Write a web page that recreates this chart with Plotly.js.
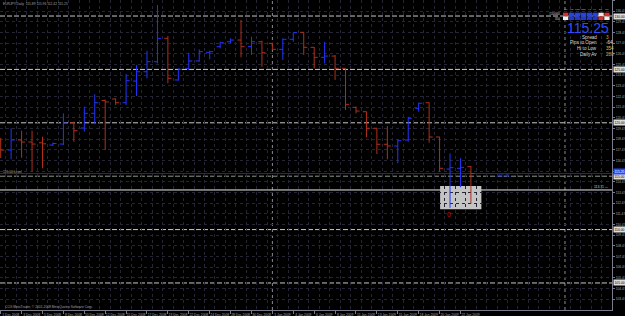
<!DOCTYPE html>
<html><head><meta charset="utf-8">
<script src="https://cdn.plot.ly/plotly-3.0.1.min.js"></script>
<style>html,body{margin:0;padding:0;background:#000;}#chart{width:625px;height:316px;}</style>
</head><body><div id="chart"></div>
<script>
// ---- data (EURJPY daily bars, Dec 2008 - Jan 2009) ----
const dates = ["1 Dec 2008","2 Dec 2008","3 Dec 2008","4 Dec 2008","5 Dec 2008","7 Dec 2008","8 Dec 2008","9 Dec 2008","10 Dec 2008","11 Dec 2008","12 Dec 2008","14 Dec 2008","15 Dec 2008","16 Dec 2008","17 Dec 2008","18 Dec 2008","19 Dec 2008","21 Dec 2008","22 Dec 2008","23 Dec 2008","24 Dec 2008","26 Dec 2008","28 Dec 2008","29 Dec 2008","30 Dec 2008","31 Dec 2008","1 Jan 2009","2 Jan 2009","4 Jan 2009","5 Jan 2009","6 Jan 2009","7 Jan 2009","8 Jan 2009","9 Jan 2009","11 Jan 2009","12 Jan 2009","13 Jan 2009","14 Jan 2009","15 Jan 2009","16 Jan 2009","18 Jan 2009","19 Jan 2009","20 Jan 2009","21 Jan 2009","22 Jan 2009","23 Jan 2009"];
const opens  = [118.30,117.45,118.39,118.20,118.13,117.92,118.01,120.01,119.51,120.89,122.09,122.23,121.88,123.91,124.78,125.72,127.91,124.01,125.10,125.79,126.60,127.13,127.59,127.75,127.13,127.59,127.44,126.88,127.82,128.47,127.07,126.13,126.25,125.10,121.45,121.04,119.49,117.99,117.83,118.39,121.36,121.88,118.67,115.67,115.74,115.89];
const highs  = [118.58,119.49,119.26,119.26,118.70,118.16,120.89,120.10,121.51,122.67,122.18,122.29,124.57,125.41,126.75,131.03,128.13,125.10,126.56,126.88,126.75,127.59,127.91,129.63,128.06,127.69,127.50,127.91,128.47,128.52,127.10,127.59,126.35,125.12,121.51,121.06,119.51,119.70,118.46,120.57,121.88,121.90,118.69,117.14,116.68,115.96];
const lows   = [116.70,116.58,116.73,115.42,115.74,117.83,117.92,118.23,119.17,119.95,117.45,121.67,121.67,122.51,124.17,125.57,123.70,123.94,124.94,125.72,125.95,126.98,127.44,126.13,126.35,125.25,126.82,125.88,127.59,126.35,125.10,125.57,124.01,121.20,120.89,118.64,117.08,116.58,116.21,118.23,121.04,118.14,115.42,112.05,113.96,112.42];
const closes = [117.45,118.39,118.20,118.01,118.03,118.06,119.98,119.26,120.89,121.88,121.95,121.88,123.94,124.78,125.72,127.91,124.17,125.01,125.79,126.66,126.66,127.50,127.75,127.13,127.59,126.56,126.88,127.82,128.44,127.07,126.13,126.25,125.10,121.73,121.10,119.49,117.99,117.83,118.32,120.42,121.83,118.67,115.74,115.80,115.83,115.25];
const levels = [130, 125, 120, 115, 110, 105];          // round-number dashed lines
const priceTicks = [103.47,104.47,105.47,106.47,107.47,108.47,109.47,110.47,111.47,112.47,113.47,114.47,115.47,116.47,117.47,118.47,119.47,120.47,121.47,122.47,123.47,124.47,125.47,126.47,127.47,128.47,129.47,130.47,131.47];
const bid = 115.25;
const hLine = 113.71;
const zone = {x0: 42.05, x1: 46.0, y0: 111.90, y1: 114.08};
const separators = [26, 54];
const infoLabels = ["Spread", "Pips to Open", "Hi to Low", "Daily Av"];
const infoValues = ["3", "-64", "354", "280"];
const infoColors = ["#e0b000", "#e8dcc0", "#d8c070", "#d8a860"];
const tfLabels = ["M1","M5","M15","M30","H1","H4","D1","W1"];
const tfTop = ["#d83030","#2444e8","#2444e8","#2444e8","#2444e8","#2444e8","#e8e8e8","#d83030"];
const tfBot = ["#f0f0f0","#2038d0","#2038d0","#2038d0","#2038d0","#2038d0","#d83030","#f0f0f0"];

const idx = dates.map((d, i) => i);
const labIdx = idx.filter(i => i % 2 === 0);
const labTxt = labIdx.map(i => dates[i]);

const W = 625, H = 316, ML = 0, MR = 13, MT = 0, MB = 6;
const PW = W - ML - MR, PH = H - MT - MB;
const px = x => x / PW;          // pixel -> paper x
const py = y => 1 - y / PH;      // pixel -> paper y
const FONT = "Liberation Sans, Arial, sans-serif";
const tiny = 3.3;
const GRID = "#252534";

const trace = {
  type: "ohlc", x: idx, open: opens, high: highs, low: lows, close: closes,
  increasing: {line: {color: "#2234ff", width: 1}},
  decreasing: {line: {color: "#b0301c", width: 1}},
  line: {width: 1}, tickwidth: 0.34, hoverinfo: "skip", showlegend: false
};

const shapes = [];
shapes.push({type: "rect", xref: "x", yref: "y", x0: zone.x0, x1: zone.x1, y0: zone.y0, y1: zone.y1,
  fillcolor: "#c4c4c4", line: {width: 0}, layer: "below"});
separators.forEach(s => shapes.push({type: "line", xref: "x", yref: "paper", x0: s, x1: s, y0: 0, y1: 1,
  line: {color: "#8a8a98", width: 1, dash: "dot"}, layer: "below"}));
levels.forEach(l => shapes.push({type: "line", xref: "paper", yref: "y", x0: 0, x1: 1, y0: l, y1: l,
  line: {color: l === 115 ? "#8c9c8c" : "#c8c8c8", width: 1, dash: "5px,2px"}, layer: "below"}));
shapes.push({type: "line", xref: "paper", yref: "y", x0: 0, x1: 1, y0: bid, y1: bid,
  line: {color: "#1c2a78", width: 1}, layer: "below"});
shapes.push({type: "line", xref: "paper", yref: "y", x0: 0, x1: 1, y0: hLine, y1: hLine,
  line: {color: "#e8e8e8", width: 1}, layer: "below"});
// timeframe cells widget
const cx0 = 563, cw = 5.9;
tfTop.forEach((c, k) => {
  shapes.push({type: "rect", xref: "paper", yref: "paper", x0: px(cx0 + k * cw), x1: px(cx0 + (k + 1) * cw - 0.6),
    y0: py(16.4), y1: py(12.7), fillcolor: c, line: {width: 0}, layer: "above"});
  shapes.push({type: "rect", xref: "paper", yref: "paper", x0: px(cx0 + k * cw), x1: px(cx0 + (k + 1) * cw - 0.6),
    y0: py(20), y1: py(16.4), fillcolor: tfBot[k], line: {width: 0}, layer: "above"});
});

const ann = [];
levels.forEach(l => ann.push({xref: "paper", yref: "y", x: 1, y: l, xanchor: "left", yanchor: "middle", xshift: 1,
  text: l.toFixed(2), showarrow: false, font: {size: tiny, color: "#000", family: FONT}, bgcolor: "#dcdcdc", borderpad: 0.5}));
ann.push({xref: "paper", yref: "y", x: 1, y: bid, xanchor: "left", yanchor: "middle", xshift: 1, yshift: 2,
  text: bid.toFixed(2), showarrow: false, font: {size: tiny, color: "#fff", family: FONT}, bgcolor: "#2848f0", borderpad: 0.5});
ann.push({xref: "paper", yref: "y", x: 1, y: hLine, xanchor: "right", yanchor: "bottom", xshift: -1, yshift: -1,
  text: hLine.toFixed(2) + " \u2014", showarrow: false, font: {size: tiny, color: "#d0d0d0", family: FONT}});
ann.push({xref: "paper", yref: "y", x: 0, y: 115, xanchor: "left", yanchor: "bottom", xshift: 1, yshift: 0,
  text: "115.00 Level", showarrow: false, font: {size: tiny, color: "#a8a8a8", family: FONT}});
ann.push({xref: "x", yref: "y", x: 48.2, y: 115, xanchor: "center", yanchor: "middle",
  text: "\u2013 " + bid.toFixed(2) + " \u2013", showarrow: false, font: {size: tiny + 0.5, color: "#3040d0", family: FONT}});
ann.push({xref: "x", yref: "y", x: 42.9, y: 111.37, xanchor: "center", yanchor: "middle",
  text: "0", showarrow: false, font: {size: 7, color: "#c01010", family: FONT}});
ann.push({xref: "paper", yref: "paper", x: px(1), y: py(0.5), xanchor: "left", yanchor: "top",
  text: "EURJPY,Daily  115.89 115.96 112.42 115.25", showarrow: false, font: {size: tiny, color: "#a0a0a0", family: FONT}});
ann.push({xref: "paper", yref: "paper", x: px(3), y: py(306.7), xanchor: "left", yanchor: "middle",
  text: "CCG MetaTrader, \u00a9 2001-2008 MetaQuotes Software Corp.", showarrow: false, font: {size: tiny, color: "#a0a0a0", family: FONT}});
// widget
ann.push({xref: "paper", yref: "paper", x: px(611), y: py(27.6), xanchor: "right", yanchor: "middle",
  text: bid.toFixed(2), showarrow: false, font: {size: 14, color: "#2f4bff", family: FONT}});
const rowY = [37, 42.7, 48.4, 54.1];
infoLabels.forEach((t, k) => {
  ann.push({xref: "paper", yref: "paper", x: px(598.5), y: py(rowY[k]), xanchor: "right", yanchor: "middle",
    text: t, showarrow: false, font: {size: 4.6, color: "#d8d8d8", family: FONT}});
  ann.push({xref: "paper", yref: "paper", x: px(603.5), y: py(rowY[k]), xanchor: "left", yanchor: "middle",
    text: infoValues[k], showarrow: false, font: {size: 4.6, color: infoColors[k], family: FONT}});
});
tfLabels.forEach((t, k) => ann.push({xref: "paper", yref: "paper", x: px(cx0 + k * cw + cw / 2), y: py(10), xanchor: "center", yanchor: "middle",
  text: t, showarrow: false, font: {size: 2.4, color: "#c8c8c8", family: FONT}}));
ann.push({xref: "paper", yref: "paper", x: px(562), y: py(13.5), xanchor: "right", yanchor: "middle",
  text: "150000", showarrow: false, font: {size: 2.8, color: "#d8d8d8", family: FONT}});
ann.push({xref: "paper", yref: "paper", x: px(562), y: py(18.5), xanchor: "right", yanchor: "middle",
  text: "354", showarrow: false, font: {size: 2.8, color: "#d8d8d8", family: FONT}});

const layout = {
  width: W, height: H, margin: {l: ML, r: MR, t: MT, b: MB, pad: 0},
  paper_bgcolor: "#000", plot_bgcolor: "#000", showlegend: false,
  font: {family: FONT, color: "#a0a0a0"},
  xaxis: {
    range: [-0.067, 58.5], tickvals: labIdx, ticktext: labTxt,
    tickfont: {size: tiny, color: "#a8a8a8", family: FONT}, ticks: "outside", ticklen: 3, tickcolor: "#7a7a8a",
    ticklabelshift: 10, ticklabelstandoff: -2,
    showgrid: false, zeroline: false, showline: true, linecolor: "#7a7a8a", linewidth: 1, mirror: true,
    minor: {tick0: 0.5, dtick: 1, showgrid: true, gridcolor: GRID, griddash: "dot", gridwidth: 1, ticks: ""},
    rangeslider: {visible: false}, fixedrange: true
  },
  yaxis: {
    side: "right", range: [102.47, 131.50], tickvals: priceTicks, ticktext: priceTicks.map(v => v.toFixed(2)),
    tickfont: {size: tiny, color: "#a8a8a8", family: FONT}, ticks: "outside", ticklen: 2, tickcolor: "#7a7a8a",
    showgrid: true, gridcolor: GRID, griddash: "dot", gridwidth: 1, zeroline: false,
    showline: true, linecolor: "#7a7a8a", linewidth: 1, fixedrange: true
  },
  shapes: shapes, annotations: ann
};
Plotly.newPlot("chart", [trace], layout, {displayModeBar: false, staticPlot: true});
</script></body></html>
